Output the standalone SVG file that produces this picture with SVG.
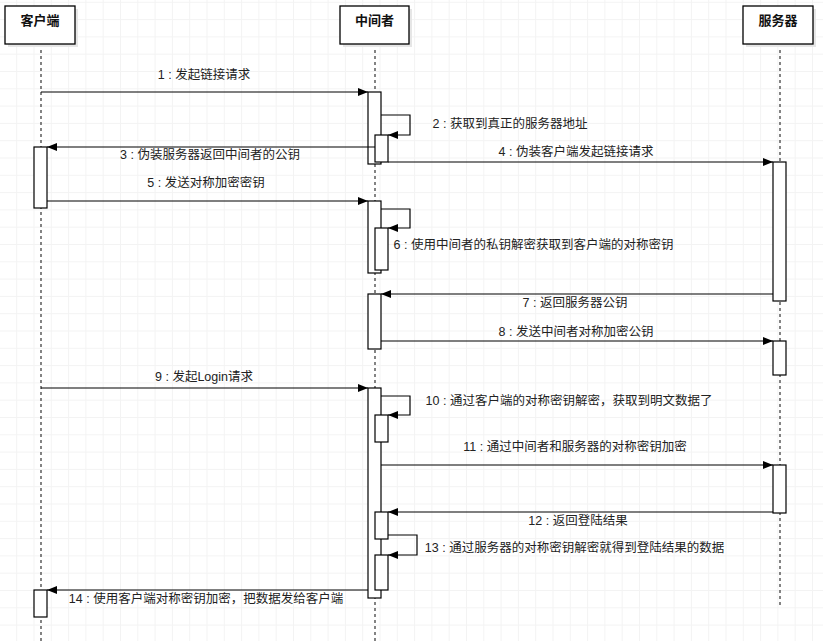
<svg xmlns="http://www.w3.org/2000/svg" width="823" height="641" viewBox="0 0 823 641">
<defs>
<pattern id="grid" patternUnits="userSpaceOnUse" x="16.2" y="1.8" width="17.3" height="17.3">
<path d="M0 0.5H17.3M0.5 0V17.3" fill="none" stroke="#f3f3f3" stroke-width="1"/>
</pattern>
<marker id="arr" viewBox="0 0 10 8" refX="10" refY="4" markerWidth="10" markerHeight="8" markerUnits="userSpaceOnUse" orient="auto">
<path d="M0 0L10 4L0 8Z" fill="#000"/>
</marker>
</defs>
<style>
.hdr{fill:#fff;stroke:#000;stroke-width:1.3}
.shd{fill:#e6e6e6}
.ht{font-family:"Liberation Sans","Noto Sans CJK SC",sans-serif;font-size:13px;font-weight:bold;fill:#111;text-anchor:middle}
.life{stroke:#333;stroke-width:1.2;stroke-dasharray:3 3;fill:none}
.act{fill:#fff;stroke:#000;stroke-width:1.2}
.msg{fill:none;stroke:#000;stroke-width:1.2;marker-end:url(#arr)}
.lbl{font-family:"Liberation Sans","Noto Sans CJK SC",sans-serif;font-size:12.5px;fill:#222;text-anchor:middle}
</style>
<rect width="823" height="641" fill="#fff"/>
<rect width="823" height="641" fill="url(#grid)"/>

<g id="lifelines">
<path class="life" d="M41 44V641"/>
<path class="life" d="M375 44V641"/>
<path class="life" d="M780 44V607"/>
</g>

<g id="client">
<rect class="shd" x="8" y="9" width="70" height="38"/>
<rect class="hdr" x="5" y="6" width="70" height="38"/>
<text class="ht" x="40" y="25">客户端</text>
</g>
<g id="mitm">
<rect class="shd" x="343" y="9" width="69" height="38"/>
<rect class="hdr" x="340" y="6" width="69" height="38"/>
<text class="ht" x="374.5" y="25">中间者</text>
</g>
<g id="server">
<rect class="shd" x="746" y="9" width="70" height="38"/>
<rect class="hdr" x="743" y="6" width="70" height="38"/>
<text class="ht" x="778" y="25">服务器</text>
</g>

<g id="activations">
<rect class="act" x="34" y="147" width="13" height="61"/>
<rect class="act" x="34" y="590" width="13" height="27"/>
<rect class="act" x="368" y="92" width="13" height="72"/>
<rect class="act" x="375" y="135" width="13" height="27"/>
<rect class="act" x="368" y="201" width="13" height="72"/>
<rect class="act" x="375" y="228" width="13" height="42"/>
<rect class="act" x="368" y="294" width="13" height="55"/>
<rect class="act" x="368" y="388" width="13" height="210"/>
<rect class="act" x="375" y="415" width="13" height="27"/>
<rect class="act" x="375" y="512" width="13" height="27"/>
<rect class="act" x="375" y="555" width="13" height="35"/>
<rect class="act" x="773" y="162" width="13" height="139"/>
<rect class="act" x="773" y="341" width="13" height="34"/>
<rect class="act" x="773" y="465" width="13" height="48"/>
</g>

<g id="connectors">
<path class="msg" d="M41 92H368"/>
<path class="msg" d="M381 115H410V135H388"/>
<path class="msg" d="M375 147H47"/>
<path class="msg" d="M388 162H773"/>
<path class="msg" d="M47 201H368"/>
<path class="msg" d="M381 209H410V228H388"/>
<path class="msg" d="M773 294H381"/>
<path class="msg" d="M381 341H773"/>
<path class="msg" d="M41 388H368"/>
<path class="msg" d="M381 396H410V415H388"/>
<path class="msg" d="M381 465H773"/>
<path class="msg" d="M773 512H388"/>
<path class="msg" d="M388 535H417V555H388"/>
<path class="msg" d="M368 590H47"/>
</g>

<g id="labels">
<text class="lbl" x="204" y="79">1 : 发起链接请求</text>
<text class="lbl" x="510" y="128">2 : 获取到真正的服务器地址</text>
<text class="lbl" x="210" y="159">3 : 伪装服务器返回中间者的公钥</text>
<text class="lbl" x="576" y="156">4 : 伪装客户端发起链接请求</text>
<text class="lbl" x="206" y="187">5 : 发送对称加密密钥</text>
<text class="lbl" x="533.5" y="249">6 : 使用中间者的私钥解密获取到客户端的对称密钥</text>
<text class="lbl" x="575" y="307">7 : 返回服务器公钥</text>
<text class="lbl" x="576" y="336">8 : 发送中间者对称加密公钥</text>
<text class="lbl" x="204" y="381">9 : 发起Login请求</text>
<text class="lbl" x="569" y="405">10 : 通过客户端的对称密钥解密，获取到明文数据了</text>
<text class="lbl" x="575" y="451">11 : 通过中间者和服务器的对称密钥加密</text>
<text class="lbl" x="578" y="525">12 : 返回登陆结果</text>
<text class="lbl" x="574.5" y="552">13 : 通过服务器的对称密钥解密就得到登陆结果的数据</text>
<text class="lbl" x="206" y="603">14 : 使用客户端对称密钥加密，把数据发给客户端</text>
</g>
</svg>
